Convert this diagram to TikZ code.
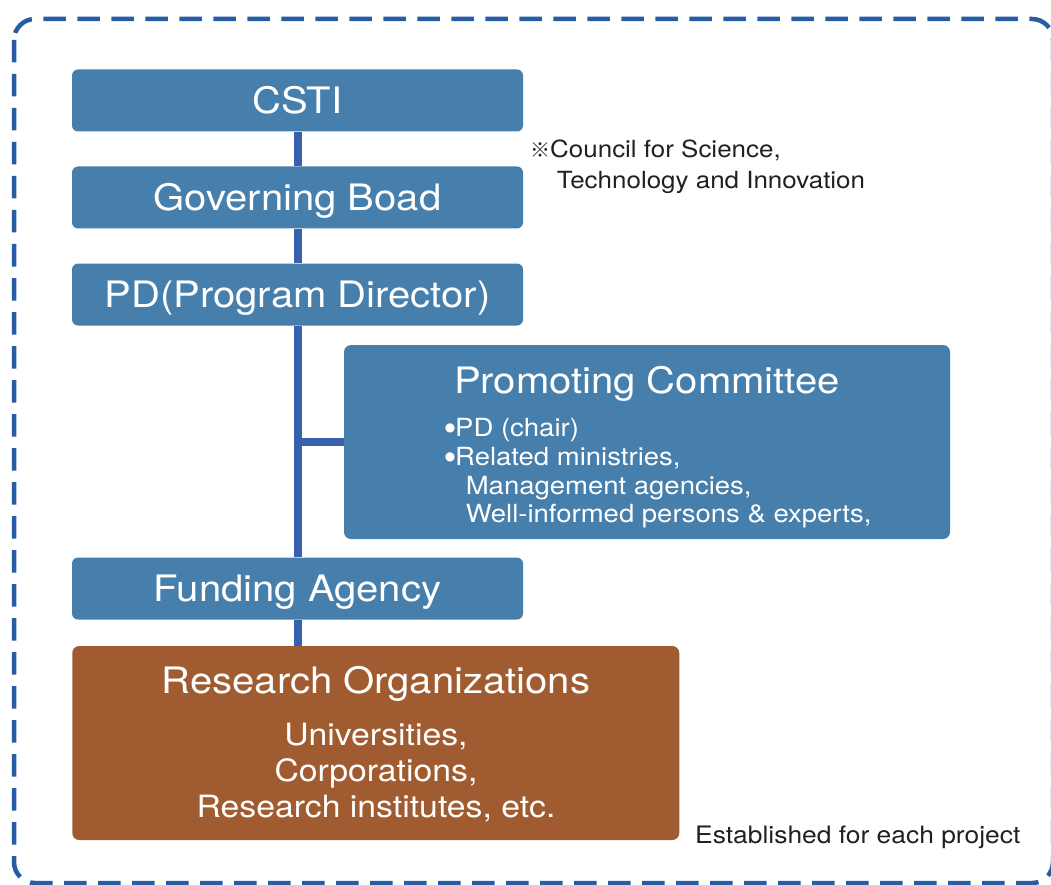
\documentclass[tikz,border=0pt]{standalone}
\usepackage{fontspec}
\setmainfont{TeX Gyre Heros}[FakeStretch=1.1]
\newfontfamily\refmark{Noto Sans CJK JP}
\newfontfamily\dotfont{DejaVu Sans}
\definecolor{boxblue}{RGB}{70,126,172}
\definecolor{boxbrown}{RGB}{160,92,48}
\definecolor{linkblue}{RGB}{56,96,172}
\definecolor{dashblue}{RGB}{40,93,165}
\definecolor{notegray}{RGB}{35,31,32}
\newcommand{\bigdot}{\makebox[10pt][c]{\raisebox{5pt}{\dotfont\fontsize{12}{12}\selectfont ●}}}
\begin{document}
\begin{tikzpicture}[x=1pt,y=-1pt,
  bluebox/.style={fill=boxblue, rounded corners=6pt, text=white, inner sep=0pt,
    minimum width=451pt, minimum height=62pt,
    font=\fontsize{36.4}{40}\selectfont, text height=26pt, text depth=0pt},
  bigbox/.style={rounded corners=7pt, inner sep=0pt},
  titletext/.style={text=white, inner sep=0pt, anchor=base, font=\fontsize{36.4}{40}\selectfont},
  bullettext/.style={text=white, inner sep=0pt, anchor=base west, font=\fontsize{25}{29}\selectfont},
  orgtext/.style={text=white, inner sep=0pt, anchor=base, font=\fontsize{30.7}{36}\selectfont},
  notetext/.style={text=notegray, inner sep=0pt, anchor=base west, font=\fontsize{23.6}{30}\selectfont},
  link/.style={draw=linkblue, line width=8pt},
  branch/.style={draw=linkblue, line width=7.5pt},
  frame/.style={draw=dashblue, line width=4.5pt, dash pattern=on 22.5pt off 11.5pt, rounded corners=21pt}
]
\useasboundingbox (0,0) rectangle (1051,885);
\fill[white] (0,0) rectangle (1051,885);

% dashed frame
\draw[frame] (14,19) rectangle (1053,883);

% boxes
\node[bluebox] (csti) at (297.5,100.5) {CSTI};
\node[bluebox] (gov) at (297.5,197.5) {Governing Boad};
\node[bluebox] (pd) at (297.5,294.5) {PD(Program Director)};
\node[bluebox] (fund) at (297.5,588.5) {Funding Agency};
\node[bigbox, fill=boxblue, minimum width=606pt, minimum height=194pt] (pc) at (647,442) {};
\node[bigbox, fill=boxbrown, minimum width=607pt, minimum height=194pt] (research) at (375.75,743) {};

% connectors
\draw[link] (csti.south) -- (gov.north);
\draw[link] (gov.south) -- (pd.north);
\draw[link] (pd.south) -- (fund.north);
\draw[link] (fund.south) -- (fund.south |- research.north);
\draw[branch] (pd.south |- pc.west) -- (pc.west);

% promoting committee text
\node[titletext] (pctitle) at (647,393.3) {Promoting Committee};
\node[bullettext] (pcl1) at (445,436) {\bigdot PD (chair)};
\node[bullettext] (pcl2) at (445,465) {\bigdot Related ministries,};
\node[bullettext] (pcl3) at (465.6,494) {Management agencies,};
\node[bullettext] (pcl4) at (465.6,522.7) {Well-informed persons \& experts,};

% research organizations text
\node[titletext] (rotitle) at (376,693.3) {Research Organizations};
\node[orgtext] (rol1) at (376,745) {Universities,};
\node[orgtext] (rol2) at (376,781.5) {Corporations,};
\node[orgtext] (rol3) at (376,817.3) {Research institutes, etc.};

% notes
\node[notetext] (note1) at (530,157.7) {{\refmark\fontsize{20}{22}\selectfont ※}Council for Science,};
\node[notetext] (note2) at (556.7,188.3) {Technology and Innovation};
\node[notetext, font=\fontsize{24}{30}\selectfont] (est) at (695,843.3) {Established for each project};
\end{tikzpicture}
\end{document}
